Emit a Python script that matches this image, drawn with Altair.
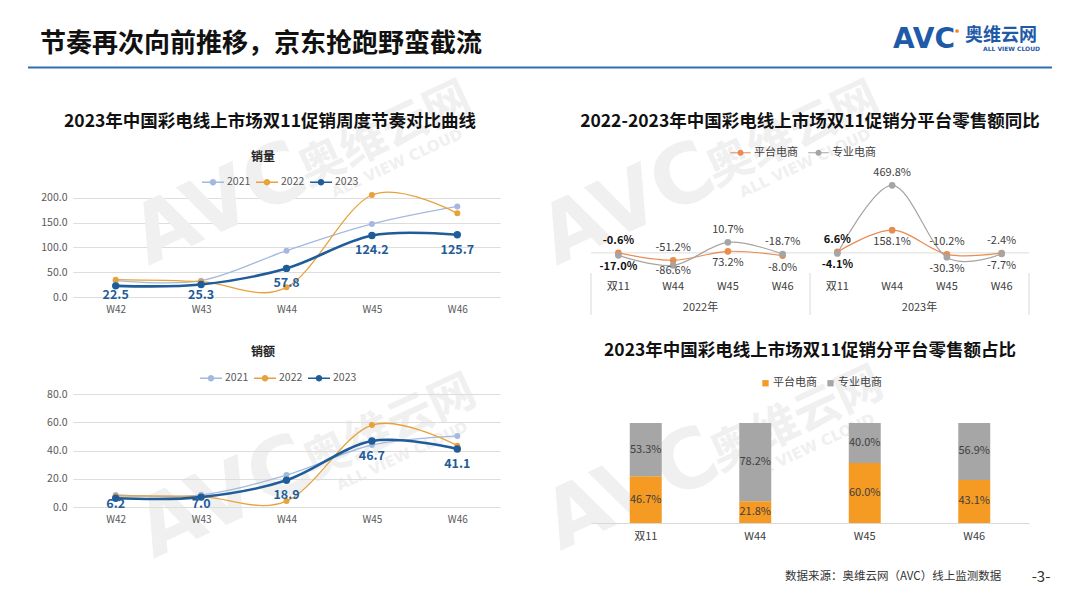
import altair as alt
import pandas as pd

FONT = "Noto Sans CJK SC"

# ---------------- data ----------------
weeks = ["W42", "W43", "W44", "W45", "W46"]
years = ["2021", "2022", "2023"]
vol_2021 = [33, 33, 93.5, 147.5, 183]
vol_2022 = [35, 31, 19.5, 206, 169]
vol_2023 = [22.5, 25.3, 57.8, 124.2, 125.7]
amt_2021 = [8.5, 8.6, 22.6, 43.9, 50.2]
amt_2022 = [7.8, 7.4, 4.2, 58.0, 43.4]
amt_2023 = [6.2, 7.0, 18.9, 46.7, 41.1]

yoy_groups = ["2022年", "2023年"]
yoy_weeks = ["双11", "W44", "W45", "W46"]
platforms = ["平台电商", "专业电商"]
yoy_platform = [-0.6, -51.2, 10.7, -18.7, 6.6, 158.1, -10.2, -2.4]
yoy_pro = [-17.0, -86.6, 73.2, -8.0, -4.1, 469.8, -30.3, -7.7]

share_cats = ["双11", "W44", "W45", "W46"]
share_platform = [46.7, 21.8, 60.0, 43.1]
share_pro = [53.3, 78.2, 40.0, 56.9]

# ---------------- styles ----------------
year_colors = ["#A3B9DD", "#E8A23A", "#1F5C99"]
yoy_colors = ["#E88C50", "#A5A5A5"]
share_colors = ["#F59A23", "#A6A6A6"]
WM = "#F0F0F0"
LEG_PATH = "M-1,-0.06L1,-0.06L1,0.06L-1,0.06Z M0,-0.3A0.3,0.3,0,1,1,0,0.3A0.3,0.3,0,1,1,0,-0.3Z"


def txt(t, x, y, **kw):
    return alt.Chart(pd.DataFrame({"t": [t]})).mark_text(**kw).encode(
        x=alt.value(x), y=alt.value(y), text="t:N")


def weekly_df(a, b, c):
    rows = []
    for yr, s in zip(years, [a, b, c]):
        for w, v in zip(weeks, s):
            rows.append({"week": w, "year": yr, "v": v})
    return pd.DataFrame(rows)


def weekly_panel(df, ymax, ticks, shift, floor, legx, legy):
    xenc = alt.X("week:N", sort=weeks, scale=alt.Scale(type="point", padding=0.5),
                 axis=alt.Axis(title=None, labelColor="#595959", labelFontSize=10,
                               labelPadding=7, ticks=False, domain=False, grid=False,
                               labelAngle=0))
    yscale = alt.Scale(domain=[0, ymax], nice=False)
    yaxis = alt.Axis(title=None, values=ticks, format=".1f", grid=True,
                     gridColor="#DDDDDD", domain=False, ticks=False, labelOverlap=False,
                     labelPadding=6, labelColor="#595959", labelFontSize=10.5)
    yenc = alt.Y("v:Q", scale=yscale, axis=yaxis)
    base = alt.Chart(df)
    old = base.transform_filter("datum.year != '2023'")
    new = base.transform_filter("datum.year == '2023'")
    # line colours come from a data-driven (sorted) stroke scale, the legend from the colour scale
    stroke = alt.Stroke("year:N", sort=years, scale=alt.Scale(range=year_colors), legend=None)
    layers = [
        old.mark_line(interpolate="cardinal", strokeWidth=1.3).encode(x=xenc, y=yenc, stroke=stroke),
        new.mark_line(interpolate="cardinal", strokeWidth=2.6).encode(x=xenc, y=yenc, stroke=stroke),
        base.mark_circle(opacity=1).encode(
            x=xenc, y=yenc,
            size=alt.condition("datum.year == '2023'", alt.value(55), alt.value(36)),
            color=alt.Color("year:N", scale=alt.Scale(domain=years, range=year_colors),
                            legend=alt.Legend(title=None, orient="none", legendX=legx, legendY=legy,
                                              direction="horizontal", symbolType=LEG_PATH,
                                              symbolSize=484, symbolStrokeWidth=0,
                                              labelFontSize=10.5, labelColor="#595959",
                                              labelOffset=3, columnPadding=5))),
        new.transform_calculate(
            ly=f"max(datum.v - {shift}, {floor})", t="format(datum.v, '.1f')"
        ).mark_text(fontWeight="bold", fontSize=12.5, color="#1F5C99", baseline="middle").encode(
            x=xenc, y=alt.Y("ly:Q", scale=yscale, axis=yaxis), text="t:N"),
    ]
    return layers


# ---------------- panel A (销量) + header + watermarks ----------------
A_W, A_H = 427, 116
OX, OY = 73, 181  # page position of panel A's plot origin
one = pd.DataFrame({"a": [0]})


def wm(px, py):
    # one "AVC 奥维云网 ALL VIEW CLOUD" watermark, given page position of 奥维云网 centre
    return [
        txt("AVC", px - 165 - OX, py + 70 - OY, align="center", baseline="middle", fontSize=82,
            fontWeight="bold", color=WM, angle=335, font="DejaVu Sans"),
        txt("奥维云网", px - OX, py - OY, align="center", baseline="middle", fontSize=46,
            fontWeight="bold", color=WM, angle=335),
        txt("ALL VIEW CLOUD", px + 12 - OX, py + 28 - OY, align="center", baseline="middle",
            fontSize=15, fontWeight="bold", color=WM, angle=335, font="DejaVu Sans"),
    ]


header = [
    alt.Chart(one).mark_rect(color="white").encode(
        x=alt.value(28 - OX), x2=alt.value(1052 - OX), y=alt.value(20 - OY), y2=alt.value(70 - OY)),
]
header += wm(385, 135) + wm(793, 135) + wm(390, 428) + wm(797, 420)
header += [
    alt.Chart(one).mark_rect(color="#2F6EB5").encode(
        x=alt.value(28 - OX), x2=alt.value(1052 - OX), y=alt.value(66.5 - OY), y2=alt.value(68.5 - OY)),
    txt("节奏再次向前推移，京东抢跑野蛮截流", 40 - OX, 44 - OY, align="left", baseline="middle",
        fontSize=26, fontWeight="bold", color="#111111"),
    txt("AVC", 893 - OX, 40 - OY, align="left", baseline="middle", fontSize=28, fontWeight="bold",
        color="#1E5AA8", font="DejaVu Sans"),
    txt("奥维云网", 965 - OX, 36 - OY, align="left", baseline="middle", fontSize=18,
        fontWeight="bold", color="#1E5AA8"),
    txt("ALL VIEW CLOUD", 983 - OX, 49 - OY, align="left", baseline="middle", fontSize=6,
        fontWeight="bold", color="#1E5AA8", font="DejaVu Sans"),
    alt.Chart(one).mark_circle(color="#F08A1C", size=14, opacity=1).encode(
        x=alt.value(957 - OX), y=alt.value(31 - OY)),
]
A_layers = header + [
    txt("2023年中国彩电线上市场双11促销周度节奏对比曲线", 270 - OX, 122 - OY, align="center",
        baseline="middle", fontSize=17.5, fontWeight="bold", color="#111111"),
    txt("销量", 263 - OX, 157 - OY, align="center", baseline="middle", fontSize=12,
        fontWeight="bold", color="#222222"),
] + weekly_panel(weekly_df(vol_2021, vol_2022, vol_2023), 234.3, [0, 50, 100, 150, 200],
                 30, 5, 129, -10)
A = alt.layer(*A_layers).properties(width=A_W, height=A_H)

# ---------------- panel B (销额) ----------------
B_W, B_H = 427, 119
BY = 388  # page y of the second row
B_layers = [
    txt("销额", 190, 352 - BY, align="center", baseline="middle", fontSize=12,
        fontWeight="bold", color="#222222"),
] + weekly_panel(weekly_df(amt_2021, amt_2022, amt_2023), 84.25, [0, 20, 40, 60, 80],
                 10.6, 2, 127, 367 - BY)
B = alt.layer(*B_layers).properties(width=B_W, height=B_H)

# ---------------- panel C (同比) ----------------
C_W, C_H = 438, 93
keys = [f"{g}|{w}" for g in yoy_groups for w in yoy_weeks]
crow = []
for i, k in enumerate(keys):
    g = k.split("|")[0]
    crow.append({"key": k, "grp": g, "plat": platforms[0], "v": yoy_platform[i]})
    crow.append({"key": k, "grp": g, "plat": platforms[1], "v": yoy_pro[i]})
cdf = pd.DataFrame(crow)

lrows = []
for i, k in enumerate(keys):
    p, q = yoy_platform[i], yoy_pro[i]
    pro_on_top = (q - p) > 200
    top_v, bot_v = (q, p) if pro_on_top else (p, q)
    bold = k.endswith("双11")
    lrows.append({"key": k, "v": max(p, q), "t": f"{top_v:.1f}%", "pos": "top", "bold": int(bold)})
    # bottom labels are kept clear of the category labels underneath
    lrows.append({"key": k, "v": max(min(p, q), -45), "t": f"{bot_v:.1f}%", "pos": "bottom",
                  "bold": int(bold)})
ldf = pd.DataFrame(lrows)

c_axis = alt.Axis(title=None, labelExpr="split(datum.label, '|')[1]", labelColor="#404040",
                  labelFontSize=11, labelPadding=6, ticks=False, domain=False,
                  grid=False, labelAngle=0)
c_xscale = alt.Scale(type="band", paddingInner=0, paddingOuter=0)


def xc(bp):
    return alt.X("key:N", sort=keys, scale=c_xscale, axis=c_axis, bandPosition=bp)


c_yscale = alt.Scale(domain=[-147, 500], nice=False, zero=False)
yc = alt.Y("v:Q", scale=c_yscale, axis=None)

C_layers = [
    txt("2022-2023年中国彩电线上市场双11促销分平台零售额同比", 219, -59, align="center",
        baseline="middle", fontSize=17.5, fontWeight="bold", color="#111111"),
    alt.Chart(pd.DataFrame({"v": [0]})).mark_rule(color="#DDDDDD", strokeWidth=1).encode(y=yc),
    alt.Chart(cdf).mark_line(interpolate="cardinal", strokeWidth=1.2).encode(
        x=xc(0.5), y=yc, detail="grp:N",
        stroke=alt.Stroke("plat:N", sort=platforms, scale=alt.Scale(range=yoy_colors), legend=None)),
    alt.Chart(cdf).mark_circle(opacity=1, size=45).encode(
        x=xc(0.5), y=yc,
        color=alt.Color("plat:N", scale=alt.Scale(domain=platforms, range=yoy_colors),
                        legend=alt.Legend(title=None, orient="none", legendX=139, legendY=-39,
                                          direction="horizontal", symbolType=LEG_PATH,
                                          symbolSize=420, symbolStrokeWidth=0,
                                          labelFontSize=11, labelColor="#404040",
                                          labelOffset=3, columnPadding=10))),
]
for pos, dy in [("top", -12), ("bottom", 12)]:
    for bold in [0, 1]:
        C_layers.append(
            alt.Chart(ldf).transform_filter(
                f"datum.pos == '{pos}' && datum.bold == {bold}"
            ).mark_text(fontSize=11, dy=dy, baseline="middle",
                        fontWeight="bold" if bold else "normal",
                        color="#111111" if bold else "#404040").encode(
                x=xc(0.5), y=yc, text="t:N"))
C_layers += [
    alt.Chart(pd.DataFrame({"key": [keys[0], keys[4]]})).mark_rule(color="#D9D9D9").encode(
        x=xc(0), y=alt.value(92), y2=alt.value(134)),
    alt.Chart(pd.DataFrame({"key": [keys[7]]})).mark_rule(color="#D9D9D9").encode(
        x=xc(1), y=alt.value(92), y2=alt.value(134)),
    alt.Chart(pd.DataFrame({"key": [keys[1], keys[5]], "t": yoy_groups})).mark_text(
        fontSize=11, color="#404040", baseline="middle").encode(
        x=xc(1), y=alt.value(127), text="t:N"),
]
C = alt.layer(*C_layers).properties(width=C_W, height=C_H)

# ---------------- panel D (占比) ----------------
D_W, D_H = 438, 135
DX = 591
drow = []
for i, c in enumerate(share_cats):
    drow.append({"cat": c, "plat": platforms[0], "v": share_platform[i], "ordr": 0})
    drow.append({"cat": c, "plat": platforms[1], "v": share_pro[i], "ordr": 1})
ddf = pd.DataFrame(drow)

xd = alt.X("cat:N", sort=share_cats,
           scale=alt.Scale(type="band", paddingInner=0.708, paddingOuter=0.354),
           axis=alt.Axis(title=None, labelColor="#404040", labelFontSize=11, labelPadding=7,
                         ticks=False, domain=True, domainColor="#D9D9D9",
                         grid=False, labelAngle=0))
d_yscale = alt.Scale(domain=[0, 135], nice=False)
dbase = alt.Chart(ddf).transform_stack(
    stack="v", groupby=["cat"], as_=["y0", "y1"],
    sort=[alt.SortField("ordr", order="ascending")]
).transform_calculate(mid="(datum.y0 + datum.y1) / 2", t="format(datum.v, '.1f') + '%'")

D_layers = [
    txt("2023年中国彩电线上市场双11促销分平台零售额占比", 810 - DX, 351 - BY, align="center",
        baseline="middle", fontSize=17.5, fontWeight="bold", color="#111111"),
    dbase.mark_bar().encode(
        x=xd, y=alt.Y("y0:Q", scale=d_yscale, axis=None), y2="y1:Q",
        color=alt.Color("plat:N", scale=alt.Scale(domain=platforms, range=share_colors),
                        legend=alt.Legend(title=None, orient="none", legendX=760 - DX,
                                          legendY=377.5 - BY,
                                          direction="horizontal", symbolType="square",
                                          symbolSize=40, symbolStrokeWidth=0,
                                          labelFontSize=11, labelColor="#404040",
                                          labelOffset=2, columnPadding=8))),
    dbase.mark_text(fontSize=11, color="#404040", baseline="middle").encode(
        x=xd, y=alt.Y("mid:Q", scale=d_yscale, axis=None), text="t:N"),
    txt("数据来源：奥维云网（AVC）线上监测数据", 785 - DX, 577 - BY, align="left", baseline="middle",
        fontSize=11.5, color="#333333"),
    txt("-3-", 1041 - DX, 577 - BY, align="center", baseline="middle", fontSize=15, color="#333333"),
]
D = alt.layer(*D_layers).properties(width=D_W, height=D_H)

chart = alt.concat(
    A, C, B, D, columns=2, spacing=91, bounds="flush"
).resolve_scale(color="independent", stroke="independent").properties(
    padding={"left": 20, "top": 12, "right": 8, "bottom": 8}, background="white"
).configure(font=FONT).configure_view(strokeWidth=0)

chart.save("out.html", embed_options={"renderer": "svg", "actions": False})
